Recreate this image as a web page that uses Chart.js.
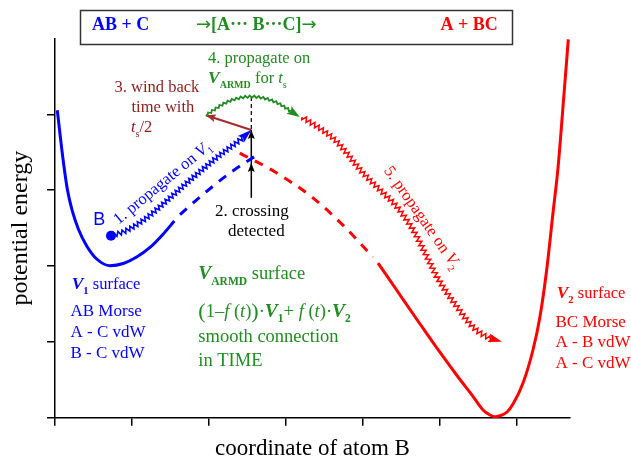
<!DOCTYPE html>
<html>
<head>
<meta charset="utf-8">
<script src="https://cdn.jsdelivr.net/npm/chart.js@4.4.1/dist/chart.umd.min.js"></script>
<style>
  html, body { margin: 0; padding: 0; background: #fff; }
  canvas { display: block; }
</style>
</head>
<body>
<canvas id="pes-chart" width="631" height="459"></canvas>
<script>
  'use strict';

  // Axis ranges (arbitrary units)
  const xRange = [0, 6.69];
  const yRange = [0, 5];

  // V1 surface (AB + C side), solid part and its diabatic continuation
  const v1Surface = [[0.03, 4.055], [0.071, 3.689], [0.114, 3.333], [0.162, 3.003], [0.221, 2.74], [0.303, 2.489],
    [0.412, 2.265], [0.542, 2.093], [0.714, 2.005], [0.887, 2.034], [1.061, 2.119], [1.234, 2.245],
    [1.407, 2.423], [1.55, 2.594]];
  const v1Diabatic = [[1.624, 2.68], [1.884, 2.911], [2.273, 3.228], [2.663, 3.491]];

  // V2 surface (A + BC side)
  const v2Diabatic = [[2.40, 3.49], [2.86, 3.24], [3.35, 2.90], [3.74, 2.54], [4.13, 2.12]];
  const v2Surface = [[4.196, 2.04], [4.482, 1.618], [4.742, 1.236], [5.002, 0.86], [5.236, 0.537], [5.417, 0.299],
    [5.56, 0.102], [5.651, 0.036], [5.716, 0.013], [5.781, 0.026], [5.872, 0.075], [5.95, 0.181], [6.08, 0.458],
    [6.209, 0.893], [6.30, 1.332], [6.387, 1.948], [6.469, 2.70], [6.534, 3.293], [6.603, 4.151], [6.668, 4.991]];

  // Trajectory of atom B, step by step
  const atomB = [[0.727, 2.40]];
  const stepPropagateV1 = [[0.727, 2.40], [0.909, 2.46], [1.169, 2.62], [1.494, 2.90], [1.819, 3.19],
    [2.143, 3.465], [2.403, 3.663], [2.55, 3.795]];
  const stepCrossing = [[2.55, 2.90], [2.55, 3.36], [2.55, 3.795]];
  const stepWindBack = [[2.55, 3.795], [1.96, 3.99]];
  const stepVertical = [[2.55, 4.23], [2.55, 3.795]];
  const stepARMD = [[1.96, 3.99], [2.25, 4.17], [2.55, 4.235], [2.86, 4.165], [3.18, 3.965]];
  const stepPropagateV2 = [[3.21, 3.966], [3.637, 3.663], [4.001, 3.228], [4.222, 3.004], [4.443, 2.779],
    [4.651, 2.476], [4.832, 2.12], [4.962, 1.856], [5.222, 1.46], [5.43, 1.196], [5.612, 1.064], [5.807, 1.002]];

  const BLUE = '#0000ff';
  const RED = '#ff0000';
  const GREEN = '#228b22';
  const BROWN = '#a52a2a';
  const DARKRED = '#8b1a1a';
  const SERIF = "'Liberation Serif', 'Times New Roman', serif";
  const SANS = "'Liberation Sans', Arial, sans-serif";

  const reg = (s) => `${s}px ${SERIF}`;
  const ital = (s) => `italic ${s}px ${SERIF}`;
  const bold = (s) => `bold ${s}px ${SERIF}`;
  const boldItal = (s) => `italic bold ${s}px ${SERIF}`;

  // smooth curve through the points
  const series = (points, extra) => Object.assign({
    data: points.map(([x, y]) => ({x, y})),
    pointRadius: 0,
    cubicInterpolationMode: 'monotone',
    fill: false,
    clip: false
  }, extra);

  // straight segments (arrows, guide line)
  const straight = (points, extra) => series(points, Object.assign({
    cubicInterpolationMode: 'default',
    tension: 0
  }, extra));

  // --- helpers for the wavy trajectory strokes ---
  function bezierPolyline(pts) {
    const out = [{x: pts[0].x, y: pts[0].y}];
    for (let i = 0; i < pts.length - 1; i++) {
      const a = pts[i], b = pts[i + 1];
      const c1x = a.cp2x ?? a.x, c1y = a.cp2y ?? a.y;
      const c2x = b.cp1x ?? b.x, c2y = b.cp1y ?? b.y;
      for (let k = 1; k <= 20; k++) {
        const t = k / 20, u = 1 - t;
        out.push({
          x: u * u * u * a.x + 3 * u * u * t * c1x + 3 * u * t * t * c2x + t * t * t * b.x,
          y: u * u * u * a.y + 3 * u * u * t * c1y + 3 * u * t * t * c2y + t * t * t * b.y
        });
      }
    }
    return out;
  }

  function lengths(line) {
    const acc = [0];
    for (let i = 1; i < line.length; i++) {
      acc.push(acc[i - 1] + Math.hypot(line[i].x - line[i - 1].x, line[i].y - line[i - 1].y));
    }
    return acc;
  }

  function pointAt(line, acc, s) {
    let i = 1;
    while (i < acc.length - 1 && acc[i] < s) i++;
    const seg = (acc[i] - acc[i - 1]) || 1;
    const t = Math.min(1, Math.max(0, (s - acc[i - 1]) / seg));
    const a = line[i - 1], b = line[i];
    return {x: a.x + (b.x - a.x) * t, y: a.y + (b.y - a.y) * t, dx: (b.x - a.x) / seg, dy: (b.y - a.y) / seg};
  }

  function arrowHead(ctx, tip, ux, uy, len, half, color) {
    const n = Math.hypot(ux, uy) || 1;
    ux /= n; uy /= n;
    const bx = tip.x - ux * len, by = tip.y - uy * len;
    ctx.beginPath();
    ctx.moveTo(tip.x, tip.y);
    ctx.lineTo(bx - uy * half, by + ux * half);
    ctx.lineTo(tip.x - ux * len * 0.8, tip.y - uy * len * 0.8);
    ctx.lineTo(bx + uy * half, by - ux * half);
    ctx.closePath();
    ctx.fillStyle = color;
    ctx.fill();
  }

  const trajectoryPlugin = {
    id: 'trajectory',
    afterDatasetsDraw(chart) {
      const ctx = chart.ctx;
      chart.data.datasets.forEach((d, i) => {
        const pts = chart.getDatasetMeta(i).data;
        if (!pts.length) return;
        ctx.save();
        if (d.zigzag) {
          const line = bezierPolyline(pts);
          const acc = lengths(line);
          const total = acc[acc.length - 1];
          const stop = total - (d.head ? d.head.len * 0.7 : 0);
          const {period, amp, width} = d.zigzag;
          ctx.strokeStyle = d.borderColor;
          ctx.lineWidth = width;
          ctx.lineJoin = 'miter';
          ctx.beginPath();
          ctx.moveTo(line[0].x, line[0].y);
          let sign = 1;
          for (let s = period / 4; s < stop; s += period / 2) {
            const p = pointAt(line, acc, s);
            ctx.lineTo(p.x - p.dy * amp * sign, p.y + p.dx * amp * sign);
            sign = -sign;
          }
          const e = pointAt(line, acc, stop);
          ctx.lineTo(e.x, e.y);
          ctx.stroke();
          if (d.head) {
            const tip = line[line.length - 1];
            const back = pointAt(line, acc, total - d.head.len);
            arrowHead(ctx, tip, tip.x - back.x, tip.y - back.y, d.head.len, d.head.half, d.borderColor);
          }
        } else if (d.head) {
          d.head.at.forEach((k) => {
            const a = pts[k - 1], b = pts[k];
            arrowHead(ctx, b, b.x - a.x, b.y - a.y, d.head.len, d.head.half, d.borderColor);
          });
        }
        ctx.restore();
      });
    }
  };

  // Annotation text: runs of [text, font, dy]
  const notes = [
    {x: 92, y: 30, color: BLUE, runs: [['AB + C', bold(18)]]},
    {x: 196, y: 30, color: GREEN, runs: [['\u2192', "18px 'DejaVu Sans', sans-serif", 0],
      ['[A\u00b7\u00b7\u00b7 B\u00b7\u00b7\u00b7C]', bold(18)], ['\u2192', "18px 'DejaVu Sans', sans-serif", 0]]},
    {x: 440.5, y: 30, color: RED, runs: [['A + BC', bold(18)]]},

    {x: 208, y: 62.5, color: GREEN, runs: [['4. propagate on', reg(16.5)]]},
    {x: 208, y: 83, color: GREEN, runs: [['V', boldItal(17.5)], ['ARMD', bold(10), 5], [' for ', reg(16.5)],
      ['t', ital(16.5)], ['s', reg(10), 5]]},

    {x: 114.5, y: 91.5, color: DARKRED, runs: [['3. wind back', reg(16.5)]]},
    {x: 131.5, y: 111.5, color: DARKRED, runs: [['time with', reg(16.5)]]},
    {x: 131, y: 131.5, color: DARKRED, runs: [['t', ital(16.5)], ['s', reg(10), 5], ['/2', reg(16.5)]]},

    {x: 118.5, y: 225, angle: -39.5, color: BLUE, runs: [['1. propagate on ', reg(16.5)], ['V', ital(16.5)],
      ['1', reg(10), 4]]},
    {x: 383.5, y: 170.5, angle: 55, color: RED, runs: [['5. propagate on ', reg(16.5)], ['V', ital(16.5)],
      ['2', reg(10), 4]]},

    {x: 215, y: 216, color: '#000', runs: [['2. crossing', reg(17)]]},
    {x: 228, y: 236, color: '#000', runs: [['detected', reg(17)]]},

    {x: 93.3, y: 225, color: BLUE, runs: [['B', `18px ${SANS}`]]},

    {x: 71.7, y: 289, color: BLUE, runs: [['V', boldItal(17.5)], ['1', bold(10.5), 4.5], [' surface', reg(16.5)]]},
    {x: 70.5, y: 316, color: BLUE, runs: [['AB Morse', reg(17)]]},
    {x: 70.5, y: 337, color: BLUE, runs: [['A - C vdW', reg(17)]]},
    {x: 70.5, y: 357.5, color: BLUE, runs: [['B - C vdW', reg(17)]]},

    {x: 198.3, y: 279.3, color: GREEN, runs: [['V', boldItal(19.5)], ['ARMD', bold(11.5), 5.5], [' surface', reg(18.5)]]},
    {x: 198.3, y: 317.3, color: GREEN, runs: [['(', reg(22), 1], ['1\u2013', reg(18.5)], ['f', ital(18.5)],
      [' (', reg(18.5)], ['t', ital(18.5)], [')', reg(18.5)], [')', reg(22), 1], ['\u00b7', reg(18.5)],
      ['V', boldItal(19.5)], ['1', bold(11.5), 5], ['+', reg(18.5)], [' f', ital(18.5)], [' (', reg(18.5)],
      ['t', ital(18.5)], [')\u00b7', reg(18.5)], ['V', boldItal(19.5)], ['2', bold(11.5), 5]]},
    {x: 198.3, y: 341.7, color: GREEN, runs: [['smooth connection', reg(18.5)]]},
    {x: 198.3, y: 365.7, color: GREEN, runs: [['in TIME', reg(18.5)]]},

    {x: 556.7, y: 298, color: RED, runs: [['V', boldItal(17.5)], ['2', bold(10.5), 4.5], [' surface', reg(16.5)]]},
    {x: 555.5, y: 326.5, color: RED, runs: [['BC Morse', reg(17)]]},
    {x: 555.5, y: 347, color: RED, runs: [['A - B vdW', reg(17)]]},
    {x: 555.5, y: 367.5, color: RED, runs: [['A - C vdW', reg(17)]]}
  ];

  const notesPlugin = {
    id: 'notes',
    afterDraw(chart) {
      const ctx = chart.ctx;
      ctx.save();
      // reaction header box
      ctx.strokeStyle = '#333';
      ctx.lineWidth = 1.5;
      ctx.strokeRect(80.5, 10.5, 432, 34);
      ctx.textBaseline = 'alphabetic';
      ctx.textAlign = 'left';
      notes.forEach((n) => {
        ctx.save();
        ctx.translate(n.x, n.y);
        if (n.angle) ctx.rotate(n.angle * Math.PI / 180);
        ctx.fillStyle = n.color;
        let cx = 0;
        n.runs.forEach(([text, font, dy = 0]) => {
          ctx.font = font;
          ctx.fillText(text, cx, dy);
          cx += ctx.measureText(text).width;
        });
        ctx.restore();
      });
      ctx.restore();
    }
  };

  const ctx = document.getElementById('pes-chart');

  new Chart(ctx, {
    type: 'line',
    data: {
      datasets: [
        series(v1Surface, {borderColor: BLUE, borderWidth: 3}),
        series(v1Diabatic, {borderColor: BLUE, borderWidth: 3, borderDash: [9, 8]}),
        series(v2Diabatic, {borderColor: RED, borderWidth: 3, borderDash: [9, 8]}),
        series(v2Surface, {borderColor: RED, borderWidth: 3}),
        straight(stepVertical, {borderColor: '#000', borderWidth: 1.2, borderDash: [4, 3]}),
        straight(stepCrossing, {borderColor: '#000', borderWidth: 1.5,
          head: {at: [1, 2], len: 9, half: 3.5}}),
        straight(stepWindBack, {borderColor: BROWN, borderWidth: 2,
          head: {at: [1], len: 10, half: 4}}),
        series(stepPropagateV1, {borderColor: BLUE, borderWidth: 0,
          zigzag: {period: 4.5, amp: 2.2, width: 1.6}, head: {len: 14, half: 4.5}}),
        series(stepARMD, {borderColor: GREEN, borderWidth: 0,
          zigzag: {period: 4.5, amp: 1.1, width: 1.8}, head: {len: 13, half: 4.5}}),
        series(stepPropagateV2, {borderColor: RED, borderWidth: 0,
          zigzag: {period: 5, amp: 2.4, width: 1.5}, head: {len: 14, half: 4.5}}),
        series(atomB, {borderColor: BLUE, showLine: false, pointRadius: 5,
          pointBackgroundColor: BLUE, pointBorderWidth: 0})
      ]
    },
    options: {
      responsive: false,
      devicePixelRatio: 1,
      animation: false,
      events: [],
      layout: {padding: {top: 38.6, right: 61, bottom: 0, left: 0}},
      scales: {
        x: {
          type: 'linear',
          min: xRange[0],
          max: xRange[1],
          ticks: {display: false, stepSize: 1, includeBounds: false},
          grid: {drawOnChartArea: false, drawTicks: true, tickLength: 8, color: '#000', lineWidth: 1.5},
          border: {display: true, color: '#000', width: 1.5},
          title: {display: true, text: 'coordinate of atom B', color: '#000',
            font: {family: SERIF, size: 23, lineHeight: 1}, padding: {top: 0, bottom: -1}},
          afterFit: (s) => { s.height = 41.3; }
        },
        y: {
          type: 'linear',
          min: yRange[0],
          max: yRange[1],
          ticks: {display: false, stepSize: 1},
          afterBuildTicks: (s) => { s.ticks = s.ticks.filter((t) => t.value < yRange[1]); },
          grid: {drawOnChartArea: false, drawTicks: true, tickLength: 8, color: '#000', lineWidth: 1.5},
          border: {display: true, color: '#000', width: 1.5},
          title: {display: true, text: 'potential energy', color: '#000',
            font: {family: SERIF, size: 24, lineHeight: 1}, padding: {top: 9, bottom: 0}},
          afterFit: (s) => { s.width = 55; }
        }
      },
      plugins: {
        legend: {display: false},
        tooltip: {enabled: false}
      }
    },
    plugins: [trajectoryPlugin, notesPlugin]
  });
</script>
</body>
</html>
